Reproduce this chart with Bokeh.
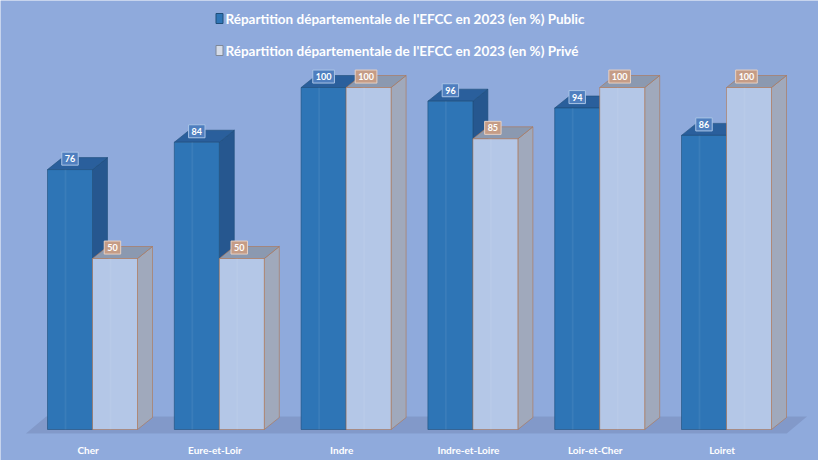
import numpy as np
from bokeh.plotting import figure
from bokeh.models import Range1d
from bokeh.embed import file_html
from bokeh.resources import INLINE
from bokeh.core.properties import value

# ---------------- data ----------------
categories = ["Cher", "Eure-et-Loir", "Indre", "Indre-et-Loire", "Loir-et-Cher", "Loiret"]
public = [76, 84, 100, 96, 94, 86]
prive = [50, 50, 100, 85, 100, 100]
legend_labels = [
    "Répartition départementale de l'EFCC en 2023 (en %) Public",
    "Répartition départementale de l'EFCC en 2023 (en %) Privé",
]

# ---------------- layout helpers (reference pixel -> data) ----------------
W, H = 818, 460
OX, OY = 5, 8                # reference pixel of the chart's top-left corner
CX0, CSTEP = 97.0, 126.8     # pixel x of category 0 centre, pixel step
BASE, SCALE = 437.0, 3.42     # pixel y of value 0, pixels per unit

def X(px):
    return (px - CX0) / CSTEP

def Y(py):
    return (BASE - py) / SCALE

BG = "#8FAADC"
bw = 45 / CSTEP          # width of one bar
dx = 15 / CSTEP          # depth offset x
dy = 12 / SCALE          # depth offset y

p = figure(width=W, height=H,
           x_range=Range1d(X(OX), X(OX + W)),
           y_range=Range1d(Y(OY + H), Y(OY)),
           x_axis_location=None, y_axis_location=None,
           output_backend="svg", toolbar_location=None,
           min_border=0, background_fill_color=BG, border_fill_color=BG,
           outline_line_color=None)
p.grid.visible = False

# floor (perspective slab under the bars)
n = len(categories)
fl_left = -bw - 0.17
fl_right = (n - 1) + bw + 0.12
p.patch([fl_left, fl_right, fl_right + 0.16, fl_left + 0.16],
        [Y(441), Y(441), Y(424), Y(424)],
        fill_color="#8299C9", line_color=None)

idx = np.arange(n)

def draw_series(x0, vals, front, top, side, edge):
    x0 = np.asarray(x0, dtype=float)
    v = np.asarray(vals, dtype=float)
    x1 = x0 + bw
    side_xs = [[a, a + dx, a + dx, a] for a in x1]
    side_ys = [[0, dy, b + dy, b] for b in v]
    p.patches(side_xs, side_ys, fill_color=side, line_color=edge, line_width=0.6)
    top_xs = [[a, a + bw, a + bw + dx, a + dx] for a in x0]
    top_ys = [[b, b, b + dy, b + dy] for b in v]
    p.patches(top_xs, top_ys, fill_color=top, line_color=edge, line_width=0.6)
    p.quad(left=x0, right=x1, bottom=0, top=v, fill_color=front,
           line_color=edge, line_width=0.6)
    # subtle highlight stripe
    p.quad(left=x0 + bw * 0.38, right=x0 + bw * 0.42, bottom=0, top=v,
           fill_color="white", fill_alpha=0.06, line_color=None)

draw_series(idx - bw, public, "#2E75B6", "#2A5F9C", "#26578F", "#1F4E79")
draw_series(idx, prive, "#B4C7E7", "#8B99B0", "#A0A9BC", "#B0744F")

# value labels
p.text(x=idx - bw / 2, y=np.array(public) + 3.2, text=[str(v) for v in public],
       text_font=value("Lato"), text_font_style="bold", text_font_size="9px",
       text_color="white", text_align="center", text_baseline="middle",
       background_fill_color="#4F7FBF", border_line_color="#A9C4E6",
       border_line_width=1, padding=3)
p.text(x=idx + bw / 2 - 0.02, y=np.array(prive) + 3.2, text=[str(v) for v in prive],
       text_font=value("Lato"), text_font_style="bold", text_font_size="9px",
       text_color="white", text_align="center", text_baseline="middle",
       background_fill_color="#C59C86", border_line_color="#E6D0C4",
       border_line_width=1, padding=3)

# category labels
p.text(x=idx - 0.035, y=[Y(457)] * n, text=categories,
       text_font=value("Lato"), text_font_style="bold", text_font_size="10px",
       text_color="white", text_align="center", text_baseline="middle")

# legend
leg_y = [Y(26), Y(58)]
p.rect(x=[X(224)] * 2, y=leg_y, width=7, height=10,
       width_units="screen", height_units="screen",
       fill_color=["#2E75B6", "#D5DCE8"], line_color=["#1F4E79", "#7F8898"])
p.text(x=[X(230)] * 2, y=leg_y, text=legend_labels,
       text_font=value("Lato"), text_font_style="bold", text_font_size="13.5px",
       text_color="white", text_align="left", text_baseline="middle")

open("out.html", "w").write(file_html(p, INLINE))
